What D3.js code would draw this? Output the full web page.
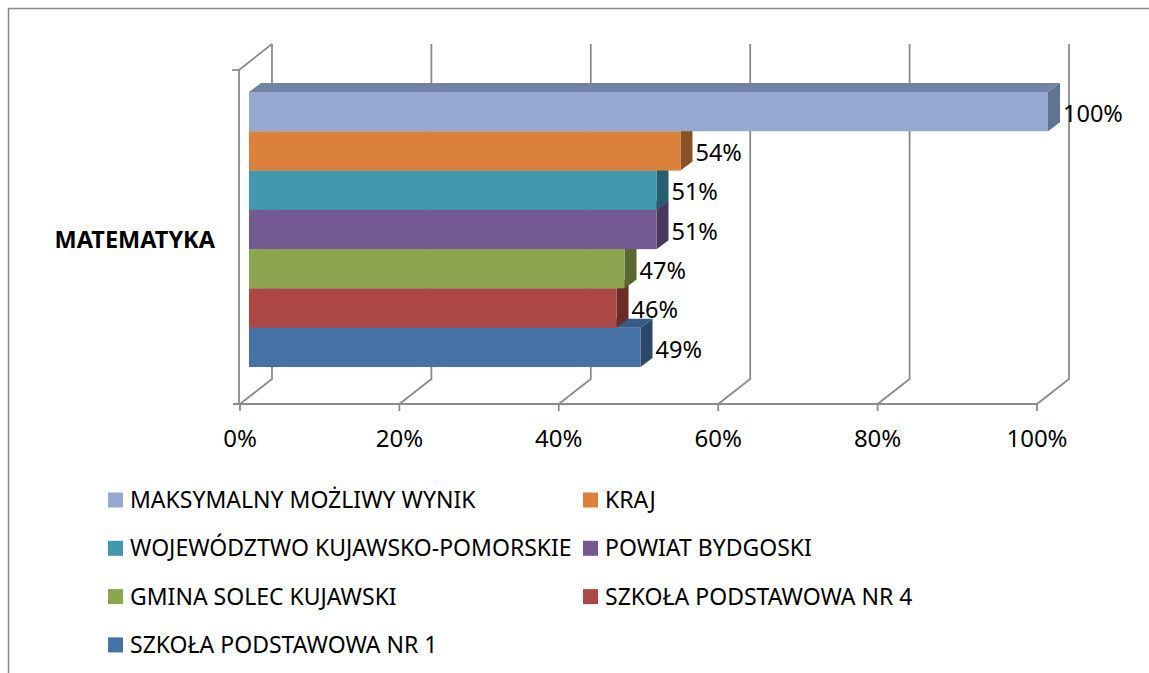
<!DOCTYPE html>
<html>
<head>
<meta charset="utf-8">
<script src="https://cdn.jsdelivr.net/npm/d3@7"></script>
<style>
  body { margin: 0; background: #fff; }
  svg text { font-family: "Noto Sans", "Open Sans", sans-serif; fill: #000; }
</style>
</head>
<body>
<div id="chart"></div>
<script>
var category = "MATEMATYKA";
var seriesNames = [
    "MAKSYMALNY MOŻLIWY WYNIK",
    "KRAJ",
    "WOJEWÓDZTWO KUJAWSKO-POMORSKIE",
    "POWIAT BYDGOSKI",
    "GMINA SOLEC KUJAWSKI",
    "SZKOŁA PODSTAWOWA NR 4",
    "SZKOŁA PODSTAWOWA NR 1"
];
var seriesValues = [1.00, 0.54, 0.51, 0.51, 0.47, 0.46, 0.49];
var frontColors = ["#95a9d1", "#dc813c", "#4198af", "#755a91", "#8ba64f", "#ab4744", "#4572a7"];
var topColors   = ["#7284a6", "#b06728", "#307a8c", "#5c4673", "#6f853d", "#883634", "#375b87"];
var sideColors  = ["#607391", "#8a5124", "#275e6d", "#4a385c", "#57692f", "#6c2b29", "#2c4869"];
var tickValues = [0, 0.2, 0.4, 0.6, 0.8, 1.0];

var width = 1149, height = 673;
var depth = { dx: 32, dy: -25 };      // floor / wall depth
var barDepth = { dx: 12, dy: -9 };    // bar depth

var svg = d3.select("#chart").append("svg")
    .attr("width", width)
    .attr("height", height);

// outer frame (only top and left edges visible)
svg.append("path")
    .attr("d", "M8.5," + height + "V8.5H" + width)
    .attr("fill", "none")
    .attr("stroke", "#888")
    .attr("stroke-width", 1.5);

var xAxis = d3.scaleLinear().domain([0, 1]).range([240, 1037]);
var xBar = d3.scaleLinear().domain([0, 1]).range([249, 1048]);
var y = d3.scaleBand().domain(seriesNames).range([92, 367]).padding(0);
var floorY = 404, wallTop = 44, axisTop = 70;

var grid = svg.append("g")
    .attr("fill", "none")
    .attr("stroke", "#8c8c8c")
    .attr("stroke-width", 1.8);

// back wall lines + floor diagonals
tickValues.forEach(function (t) {
    var fx = xAxis(t);
    grid.append("path")
        .attr("d", "M" + fx + "," + floorY + "L" + (fx + depth.dx) + "," + (floorY + depth.dy) + "V" + wallTop);
    grid.append("line")
        .attr("x1", fx).attr("x2", fx)
        .attr("y1", floorY).attr("y2", floorY + 7);
});
// front floor line
grid.append("line")
    .attr("x1", xAxis(0) - 7).attr("x2", xAxis(1))
    .attr("y1", floorY).attr("y2", floorY);
// vertical axis with side wall top edge
grid.append("path")
    .attr("d", "M" + (xAxis(0) - 1) + "," + floorY + "V" + axisTop + "L" + (xAxis(0) + depth.dx) + "," + wallTop);
grid.append("line")
    .attr("x1", xAxis(0) - 8).attr("x2", xAxis(0) - 1)
    .attr("y1", axisTop).attr("y2", axisTop);

// tick labels
svg.append("g").selectAll("text")
    .data(tickValues)
    .join("text")
    .attr("x", function (d) { return xAxis(d); })
    .attr("y", 439)
    .attr("dy", "0.35em")
    .attr("text-anchor", "middle")
    .attr("font-size", 24)
    .text(d3.format(".0%"));

// category label
svg.append("text")
    .attr("x", 215)
    .attr("y", 240)
    .attr("dy", "0.35em")
    .attr("text-anchor", "end")
    .attr("font-size", 23.5)
    .attr("font-weight", "bold")
    .text(category);

// bars, drawn from the bottom one up so upper bars hide lower top faces
var bars = svg.append("g");
var order = d3.range(seriesNames.length).reverse();
order.forEach(function (i) {
    var x0 = xBar(0), x1 = xBar(seriesValues[i]);
    var y0 = y(seriesNames[i]), y1 = y0 + y.bandwidth();
    var g = bars.append("g");
    g.append("path")
        .attr("d", "M" + x0 + "," + y0 + "L" + (x0 + barDepth.dx) + "," + (y0 + barDepth.dy) +
            "H" + (x1 + barDepth.dx) + "L" + x1 + "," + y0 + "Z")
        .attr("fill", topColors[i]);
    g.append("path")
        .attr("d", "M" + x1 + "," + y0 + "L" + (x1 + barDepth.dx) + "," + (y0 + barDepth.dy) +
            "V" + (y1 + barDepth.dy) + "L" + x1 + "," + y1 + "Z")
        .attr("fill", sideColors[i]);
    g.append("rect")
        .attr("x", x0).attr("y", y0)
        .attr("width", x1 - x0).attr("height", y1 - y0)
        .attr("fill", frontColors[i]);
});

// data labels
svg.append("g").selectAll("text")
    .data(seriesValues)
    .join("text")
    .attr("x", function (d) { return xBar(d) + 15; })
    .attr("y", function (d, i) { return y(seriesNames[i]) + y.bandwidth() / 2 + 2; })
    .attr("dy", "0.35em")
    .attr("font-size", 23.5)
    .text(d3.format(".0%"));

// legend, two columns
var legend = svg.append("g");
seriesNames.forEach(function (name, i) {
    var col = i % 2, row = Math.floor(i / 2);
    var lx = col === 0 ? 108 : 583;
    var ly = 500 + row * 48.3;
    legend.append("rect")
        .attr("x", lx).attr("y", ly - 7.5)
        .attr("width", 15).attr("height", 15)
        .attr("fill", frontColors[i]);
    legend.append("text")
        .attr("x", lx + 22).attr("y", ly)
        .attr("dy", "0.35em")
        .attr("font-size", 23)
        .text(name);
});
</script>
</body>
</html>
